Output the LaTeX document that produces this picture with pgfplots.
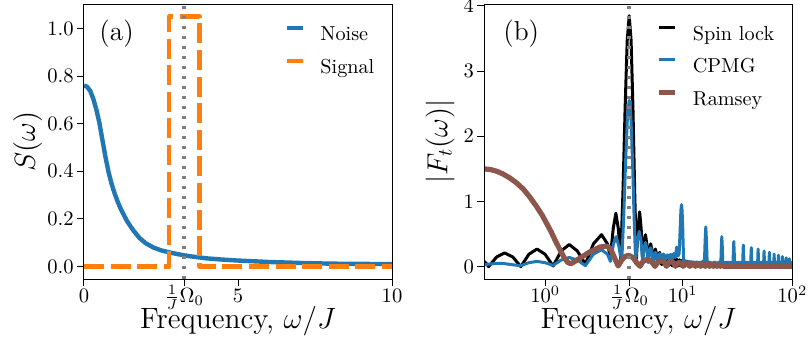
\documentclass[border=0pt]{standalone}
\usepackage{fix-cm}
\usepackage{pgfplots}
\usepackage{pgfplotstable}
\pgfplotsset{compat=1.18}

\definecolor{tabblue}{HTML}{1F77B4}
\definecolor{taborange}{HTML}{FF7F0E}
\definecolor{tabbrown}{HTML}{8C564B}

% symlog-type x transform (linear below 2, logarithmic above)
\newcommand{\symx}{0.5555556*min(\thisrow{w},2)+0.4342945*ln(max(\thisrow{w},2)/2)}

\pgfplotstableread{
w y
0 0.760
0.1 0.755
0.2 0.738
0.3 0.705
0.4 0.660
0.5 0.603
0.6 0.530
0.7 0.458
0.8 0.395
0.9 0.345
1.0 0.305
1.1 0.270
1.2 0.240
1.4 0.190
1.6 0.152
1.8 0.120
2.0 0.098
2.25 0.080
2.5 0.068
2.75 0.060
3.0 0.053
3.25 0.047
3.5 0.042
3.75 0.038
4.0 0.034
4.5 0.029
5.0 0.025
5.5 0.022
6.0 0.019
7.0 0.015
8.0 0.012
9.0 0.011
10.0 0.010
}\noisetab

\pgfplotstableread{
w y
0 0
2.75 0
2.75 1.05
3.75 1.05
3.75 0
10 0
}\signaltab

\pgfplotstableread{
w y
0.000 0.080
0.035 0.045
0.070 0.000
0.2025 0.148
0.335 0.210
0.4675 0.148
0.600 0.000
0.7325 0.190
0.865 0.270
0.9975 0.190
1.130 0.010
1.2625 0.240
1.395 0.340
1.5275 0.240
1.660 0.040
1.7925 0.350
1.925 0.490
2.0575 0.350
2.190 0.150
2.3225 0.580
2.455 0.820
2.5875 0.580
2.720 0.120
2.8525 1.155
2.985 2.450
3.1175 3.470
3.250 3.850
3.3825 3.470
3.515 2.450
3.6475 1.155
3.780 0.120
3.9125 0.590
4.045 0.840
4.1775 0.590
4.310 0.120
4.4425 0.350
4.575 0.490
4.7075 0.350
4.840 0.080
4.9725 0.250
5.105 0.350
5.2375 0.250
5.370 0.060
5.5025 0.190
5.635 0.270
5.7675 0.190
5.900 0.040
6.165 0.220
6.430 0.030
6.695 0.190
6.960 0.020
7.225 0.164
7.490 0.020
7.755 0.144
8.020 0.010
8.285 0.128
8.550 0.010
8.815 0.116
9.080 0.010
9.345 0.105
9.610 0.010
9.875 0.097
10.140 0.010
10.405 0.089
10.670 0.010
10.935 0.083
11.200 0.010
11.465 0.077
11.730 0.010
11.995 0.072
12.260 0.010
12.525 0.068
12.790 0.010
13.055 0.064
13.320 0.010
13.585 0.061
13.850 0.010
14.115 0.058
14.380 0.010
14.645 0.055
14.910 0.010
15.175 0.052
15.440 0.010
15.705 0.050
15.970 0.010
16.235 0.048
16.500 0.010
16.765 0.046
17.030 0.010
17.295 0.044
17.560 0.010
17.825 0.042
18.090 0.010
18.355 0.040
18.620 0.010
18.885 0.038
19.150 0.010
19.415 0.037
19.680 0.010
30 0.010
60 0.008
100 0.008
}\spintab

\pgfplotstableread{
w y
0.000 0.030
0.100 0.040
0.200 0.050
0.300 0.050
0.450 0.030
0.600 0.015
0.730 0.060
0.865 0.080
1.000 0.060
1.130 0.020
1.260 0.100
1.395 0.140
1.530 0.100
1.660 0.015
1.790 0.190
1.925 0.260
2.060 0.190
2.190 0.080
2.330 0.340
2.470 0.460
2.610 0.320
2.780 0.080
2.8975 0.770
3.015 1.620
3.1325 2.300
3.250 2.550
3.3675 2.300
3.485 1.620
3.6025 0.770
3.720 0.080
3.860 0.400
4.010 0.540
4.160 0.400
4.310 0.080
4.440 0.280
4.575 0.370
4.710 0.280
4.840 0.060
4.970 0.220
5.105 0.290
5.240 0.220
5.370 0.080
5.635 0.220
5.900 0.100
6.165 0.200
6.430 0.110
6.695 0.190
6.960 0.110
7.225 0.180
7.490 0.120
7.755 0.190
8.020 0.120
8.285 0.200
8.550 0.140
8.820 0.300
9.050 0.160
9.280 0.200
9.3925 0.400
9.515 0.650
9.6325 0.870
9.750 0.950
9.8675 0.870
9.985 0.650
10.1025 0.320
10.220 0.070
10.60 0.090
11.00 0.050
11.50 0.080
12.00 0.050
12.50 0.075
13.00 0.050
13.50 0.075
14.00 0.050
14.50 0.070
15.00 0.060
15.50 0.090
15.78 0.060
16.015 0.390
16.250 0.610
16.485 0.390
16.72 0.060
17.5 0.070
18.5 0.050
19.5 0.070
20.5 0.050
21.5 0.070
22.28 0.060
22.515 0.295
22.75 0.460
22.985 0.295
23.22 0.060
26.0 0.065
28.78 0.060
29.015 0.246
29.25 0.385
29.485 0.246
29.72 0.060
32.5 0.065
35.28 0.060
35.515 0.211
35.75 0.330
35.985 0.211
36.22 0.060
39.0 0.065
41.78 0.060
42.015 0.186
42.25 0.290
42.485 0.186
42.72 0.060
45.5 0.065
48.28 0.060
48.515 0.173
48.75 0.270
48.985 0.173
49.22 0.060
52.0 0.065
54.78 0.060
55.015 0.154
55.25 0.240
55.485 0.154
55.72 0.060
58.5 0.065
61.28 0.060
61.515 0.141
61.75 0.220
61.985 0.141
62.22 0.060
65.0 0.065
67.78 0.060
68.015 0.125
68.25 0.195
68.485 0.125
68.72 0.060
71.5 0.065
74.28 0.060
74.515 0.112
74.75 0.175
74.985 0.112
75.22 0.060
78.0 0.065
80.78 0.060
81.015 0.099
81.25 0.155
81.485 0.099
81.72 0.060
84.5 0.065
87.28 0.060
87.515 0.086
87.75 0.135
87.985 0.086
88.22 0.060
91.0 0.065
93.78 0.060
94.015 0.077
94.25 0.120
94.485 0.077
94.72 0.060
100 0.060
}\cpmgtab

\pgfplotstableread{
w y
0.00 1.500
0.10 1.490
0.20 1.465
0.30 1.425
0.42 1.360
0.53 1.285
0.64 1.190
0.75 1.065
0.86 0.920
0.95 0.790
1.02 0.670
1.10 0.530
1.16 0.410
1.22 0.300
1.27 0.210
1.32 0.125
1.37 0.065
1.42 0.045
1.47 0.070
1.57 0.130
1.74 0.230
1.90 0.300
2.03 0.315
2.15 0.290
2.30 0.200
2.45 0.090
2.58 0.010
2.75 0.090
2.95 0.150
3.15 0.170
3.31 0.165
3.55 0.130
3.80 0.060
4.08 0.005
4.30 0.070
4.55 0.100
4.86 0.105
5.20 0.075
5.59 0.005
5.90 0.060
6.20 0.085
6.44 0.090
6.80 0.065
7.10 0.005
7.50 0.070
7.94 0.080
8.30 0.050
8.60 0.005
9.00 0.055
9.40 0.065
9.80 0.045
10.10 0.005
10.85 0.055
11.60 0.005
12.35 0.050
13.10 0.005
13.85 0.045
14.60 0.005
15.35 0.040
16.10 0.005
16.85 0.036
17.60 0.005
18.35 0.033
19.10 0.005
19.85 0.030
20.60 0.005
21.35 0.028
22.10 0.005
22.85 0.026
23.60 0.005
30 0.005
100 0.005
}\ramseytab

\pgfplotstableread{
w y
3.25 -0.19
3.25 4.03
}\vlinetab

\pgfplotsset{
  panel/.style={
    scale only axis, width=154pt, height=137.5pt,
    axis on top,
    axis line style={line width=0.5pt},
    tick align=outside, major tick length=3.5pt,
    xtick pos=lower, ytick pos=left,
    minor tick num=0,
    tick style={line width=0.5pt, black},
    tick label style={font=\fontsize{10.3}{12}\selectfont},
    xticklabel style={anchor=base, yshift=-8.3pt},
    yticklabel style={anchor=east, inner sep=0pt, xshift=-1.5pt},
    every axis x label/.style={at={(axis description cs:0.5,-0.1782)}, anchor=base,
      font=\fontsize{14.7}{17}\selectfont},
    legend style={draw=none, fill=none, inner sep=0pt, outer sep=0pt,
      row sep=6.85pt, column sep=7.5pt, anchor=north west,
      nodes={inner sep=0pt, text height=7pt, text depth=2pt, font=\fontsize{10.1}{12}\selectfont}},
    legend cell align=left,
    legend image code/.code={\draw[##1] (0pt,3.85pt) -- (8pt,3.85pt);},
    scaled ticks=false,
  },
  vline/.style={forget plot, black!50, line width=1.7pt, dash pattern=on 1.7pt off 3.3pt},
}

\begin{document}
\begin{tikzpicture}
\useasboundingbox (0,0) rectangle (404pt,180pt);

\begin{axis}[panel, at={(42pt,40.5pt)}, anchor=south west,
  xmin=0, xmax=10, ymin=-0.0525, ymax=1.1025,
  xtick={0,3.25,5,10}, xticklabels={$0$,$\frac{1}{J}\Omega_0$,$5$,$10$},
  ytick={0,0.2,0.4,0.6,0.8,1.0},
  yticklabels={$0.0$,$0.2$,$0.4$,$0.6$,$0.8$,$1.0$},
  xlabel={Frequency, $\omega/J$}, ylabel={$S(\omega)$},
  every axis y label/.style={at={(axis description cs:-0.1834,0.5)}, rotate=90, anchor=center,
    font=\fontsize{14.5}{17}\selectfont},
  legend style={at={(axis description cs:0.6526,0.92)}},
]
\addplot[tabblue, line width=2.2pt, line join=round] table[x=w, y=y] {\noisetab};
\addlegendentry{Noise}
\addplot[taborange, line width=2.2pt, dash pattern=on 10pt off 3.3pt, line join=round] table[x=w, y=y] {\signaltab};
\addlegendentry{Signal}
\addplot[vline] coordinates {(3.25,-0.0525) (3.25,1.1025)};
\node[anchor=base west, inner sep=0pt, font=\fontsize{13.7}{16}\selectfont] at (axis description cs:0.0487,0.869) {(a)};
\end{axis}

\begin{axis}[panel, at={(242.15pt,40.5pt)}, anchor=south west,
  xmin=0, xmax=2.810081, ymin=-0.19, ymax=4.03,
  xtick={0.555556,1.321964,1.810081,2.810081},
  xticklabels={$10^0$,$\frac{1}{J}\Omega_0$,$10^1$,$10^2$},
  ytick={0,1,2,3,4},
  xlabel={Frequency, $\omega/J$}, ylabel={$|F_t(\omega)|$},
  every axis y label/.style={at={(axis description cs:-0.1438,0.5)}, rotate=90, anchor=center,
    font=\fontsize{14.5}{17}\selectfont},
  legend style={at={(axis description cs:0.5597,0.92)}},
]
\addplot[black, line width=1.5pt, line join=round] table[x expr=\symx, y=y] {\spintab};
\addlegendentry{Spin lock}
\addplot[tabblue, line width=1.5pt, line join=round] table[x expr=\symx, y=y] {\cpmgtab};
\addlegendentry{CPMG}
\addplot[tabbrown, line width=2.6pt, line join=round] table[x expr=\symx, y=y] {\ramseytab};
\addlegendentry{Ramsey}
\addplot[vline] table[x expr=\symx, y=y] {\vlinetab};
\node[anchor=base west, inner sep=0pt, font=\fontsize{13.7}{16}\selectfont] at (axis description cs:0.0607,0.869) {(b)};
\end{axis}
\end{tikzpicture}
\end{document}
